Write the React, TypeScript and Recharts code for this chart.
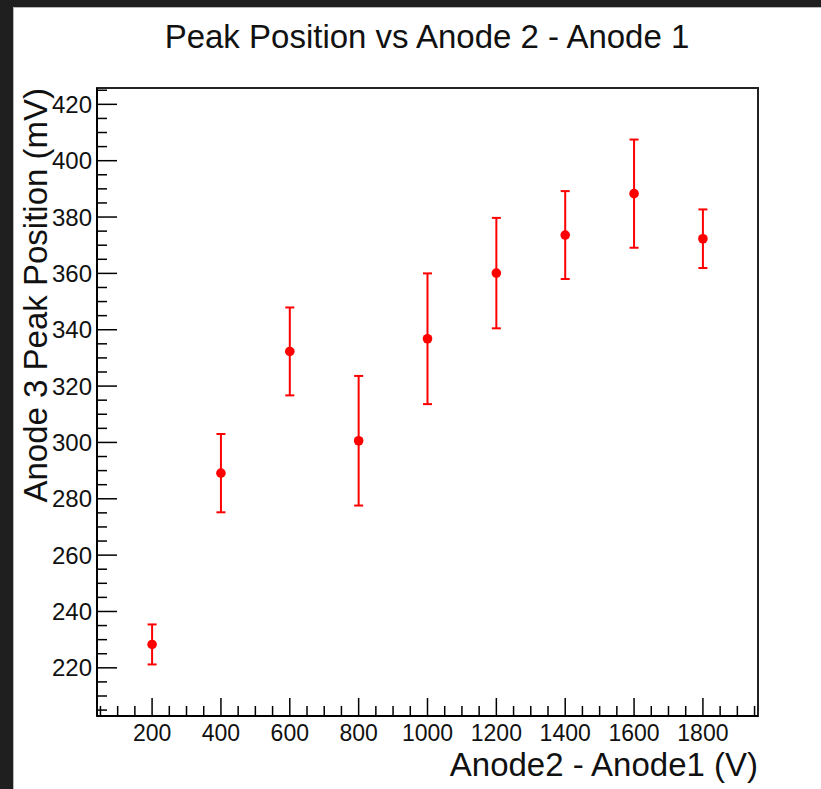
import { ScatterChart, Scatter, XAxis, YAxis, ErrorBar, ReferenceArea, Label } from 'recharts'

// Anode2 - Anode1 voltage (V) and measured anode 3 peak position (mV)
const voltages = [200, 400, 600, 800, 1000, 1200, 1400, 1600, 1800]
const peakPositions = [228.3, 289.1, 332.3, 300.6, 336.8, 360.1, 373.6, 388.3, 372.3]
const peakErrors = [7.1, 13.9, 15.6, 23.0, 23.2, 19.6, 15.6, 19.2, 10.4]

const xMajorTicks = [200, 400, 600, 800, 1000, 1200, 1400, 1600, 1800]
const yMajorTicks = [220, 240, 260, 280, 300, 320, 340, 360, 380, 400, 420]

const X_DOMAIN: [number, number] = [40, 1960]
const Y_DOMAIN: [number, number] = [202.9, 425.8]

// minor ticks, ROOT style: 4 subdivisions on x, 4 on y
const xTicks: number[] = []
for (let v = 50; v < X_DOMAIN[1]; v += 50) xTicks.push(v)
const yTicks: number[] = []
for (let v = 205; v < Y_DOMAIN[1]; v += 5) yTicks.push(v)

const FONT = '"Liberation Sans", Arial, Helvetica, sans-serif'

const data = voltages.map((x, i) => ({ x, y: peakPositions[i], err: peakErrors[i] }))

const XTick = (props: any) => {
  const { x, y, payload } = props
  const major = xMajorTicks.includes(payload.value)
  return (
    <g>
      <line x1={x} y1={y} x2={x} y2={y - (major ? 18 : 10)} stroke="#000" strokeWidth={1.5} />
      {major && (
        <text x={x} y={y + 25} textAnchor="middle" fontSize={23} fontFamily={FONT} fill="#111">
          {payload.value}
        </text>
      )}
    </g>
  )
}

const YTick = (props: any) => {
  const { x, y, payload } = props
  const major = yMajorTicks.includes(payload.value)
  return (
    <g>
      <line x1={x} y1={y} x2={x + (major ? 20 : 10)} y2={y} stroke="#000" strokeWidth={1.5} />
      {major && (
        <text x={x - 5} y={y + 8.5} textAnchor="end" fontSize={24} fontFamily={FONT} fill="#111">
          {payload.value}
        </text>
      )}
    </g>
  )
}

const Marker = (props: any) => <circle cx={props.cx} cy={props.cy} r={4.8} fill="#ff0000" />

export default function App() {
  return (
    <div style={{ position: 'absolute', left: 0, top: 0, width: 821, height: 789, background: '#fff', overflow: 'hidden' }}>
      {/* dark window edges */}
      <div style={{ position: 'absolute', left: 0, top: 0, width: 821, height: 7, background: '#1f1f1f' }} />
      <div style={{ position: 'absolute', left: 0, top: 7, width: 821, height: 1, background: '#b8b8b8' }} />
      <div style={{ position: 'absolute', left: 0, top: 0, width: 13, height: 789, background: '#1f1f1f' }} />
      <div style={{ position: 'absolute', left: 13, top: 7, width: 1, height: 782, background: '#b8b8b8' }} />

      <svg width={821} height={70} style={{ position: 'absolute', left: 0, top: 0 }}>
        <text x={427} y={48} textAnchor="middle" fontSize={33} fontFamily={FONT} fill="#111">
          Peak Position vs Anode 2 - Anode 1
        </text>
      </svg>

      <div style={{ position: 'absolute', left: 0, top: 0 }}>
        <ScatterChart width={821} height={789} margin={{ top: 88, right: 63, bottom: 0, left: 0 }}>
          <ReferenceArea
            x1={X_DOMAIN[0]}
            x2={X_DOMAIN[1]}
            y1={Y_DOMAIN[0]}
            y2={Y_DOMAIN[1]}
            fill="none"
            fillOpacity={0}
            stroke="#222"
            strokeWidth={2}
          />
          <XAxis
            type="number"
            dataKey="x"
            domain={X_DOMAIN}
            allowDataOverflow
            ticks={xTicks}
            interval={0}
            height={73}
            tickSize={0}
            tickMargin={0}
            tickLine={false}
            axisLine={{ stroke: '#000', strokeWidth: 2 }}
            tick={<XTick />}
          >
            <Label
              content={(p: any) => (
                <text
                  x={p.viewBox.x + p.viewBox.width}
                  y={p.viewBox.y + 60}
                  textAnchor="end"
                  fontSize={33}
                  fontFamily={FONT}
                  fill="#111"
                >
                  Anode2 - Anode1 (V)
                </text>
              )}
            />
          </XAxis>
          <YAxis
            type="number"
            dataKey="y"
            domain={Y_DOMAIN}
            allowDataOverflow
            ticks={yTicks}
            interval={0}
            width={97}
            tickSize={0}
            tickMargin={0}
            tickLine={false}
            axisLine={{ stroke: '#000', strokeWidth: 2 }}
            tick={<YTick />}
          >
            <Label
              content={(p: any) => {
                const tx = p.viewBox.x + 47
                const ty = p.viewBox.y
                return (
                  <text
                    x={tx}
                    y={ty}
                    transform={`rotate(-90 ${tx} ${ty})`}
                    textAnchor="end"
                    fontSize={33}
                    fontFamily={FONT}
                    fill="#111"
                  >
                    Anode 3 Peak Position (mV)
                  </text>
                )
              }}
            />
          </YAxis>
          <Scatter data={data} shape={<Marker />} isAnimationActive={false}>
            <ErrorBar dataKey="err" direction="y" width={4.5} stroke="#ff0000" strokeWidth={2} isAnimationActive={false} />
          </Scatter>
        </ScatterChart>
      </div>
    </div>
  )
}
